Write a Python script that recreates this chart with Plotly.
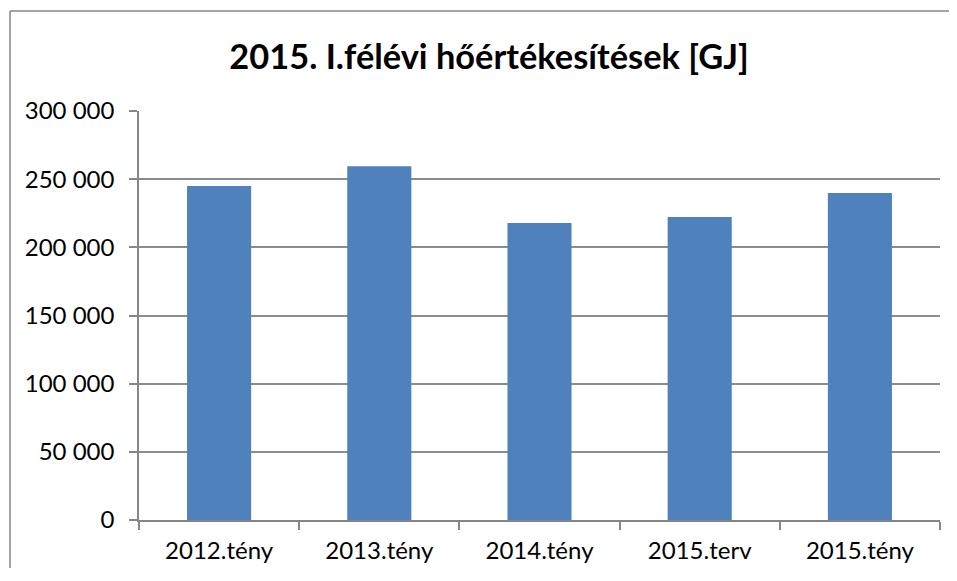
import plotly.graph_objects as go

# 2015 first half-year heat sales, GJ
categories = ["2012.tény", "2013.tény", "2014.tény", "2015.terv", "2015.tény"]
values = [245000, 259500, 217800, 222300, 239900]
y_ticks = [0, 50000, 100000, 150000, 200000, 250000, 300000]

fig = go.Figure()
fig.add_trace(go.Bar(x=categories, y=values, marker=dict(color="#4f81bd", line=dict(width=0))))

# sized so the figure plus the page body margin fits the window
fig.update_layout(
    width=949, height=560,
    margin=dict(l=131, r=17, t=103, b=48),
    paper_bgcolor="white", plot_bgcolor="white",
    separators=", ",
    font=dict(family="Lato", color="black"),
    title=dict(text="<b>2015. I.félévi hőértékesítések [GJ]</b>", x=0.5069, xanchor="center",
               y=0.9125, yanchor="middle", font=dict(size=34.4, family="Lato")),
    bargap=0.6,
    showlegend=False,
)
fig.update_xaxes(showline=True, linecolor="#868686", linewidth=1.5, ticks="outside", tickson="boundaries",
                 ticklen=8, tickcolor="#868686", tickwidth=1.5, tickfont=dict(size=24), showgrid=False,
                 ticklabelstandoff=8, automargin=False)
fig.update_yaxes(range=[0, 300000], tickvals=y_ticks, tickformat=",d", showline=True, linecolor="#868686",
                 linewidth=1.5, ticks="outside", ticklen=8, tickcolor="#868686", tickwidth=1.5,
                 showgrid=True, gridcolor="#8c8c8c", gridwidth=1.5, zeroline=False, tickfont=dict(size=24),
                 ticklabelstandoff=10, automargin=False)

# chart border: only the left and top edges show in the crop
fig.add_shape(type="line", xref="paper", yref="paper", x0=-0.161, x1=-0.161, y0=-0.3, y1=1.2445,
              line=dict(color="#868686", width=1.5), layer="below")
fig.add_shape(type="line", xref="paper", yref="paper", x0=-0.161, x1=1.2, y0=1.2445, y1=1.2445,
              line=dict(color="#868686", width=1.5), layer="below")

fig.write_html("out.html")
